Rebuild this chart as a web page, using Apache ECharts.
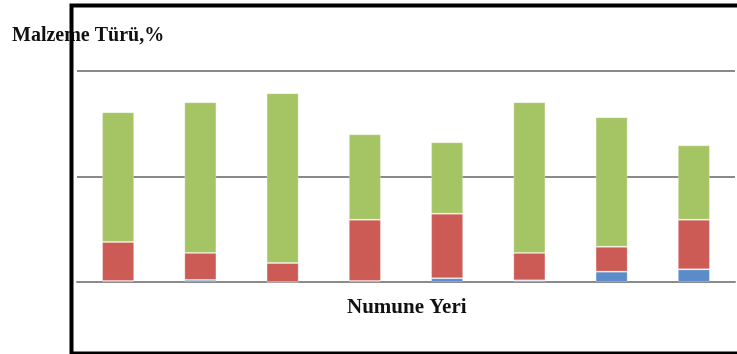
<!DOCTYPE html>
<html>
<head>
<meta charset="utf-8">
<script src="https://cdn.jsdelivr.net/npm/echarts@6/dist/echarts.min.js"></script>
<style>
  html, body { margin: 0; padding: 0; background: #fff; }
  #chart { width: 737px; height: 354px; }
</style>
</head>
<body>
<div id="chart"></div>
<script>
// Sampling sites and material shares (%) per site
const categories = ['1', '2', '3', '4', '5', '6', '7', '8'];
const seriesBlue = [0.5, 1.0, 0.0, 0.5, 1.8, 0.8, 4.9, 6.0];
const seriesRed = [18.5, 12.8, 9.0, 29.0, 30.6, 13.0, 11.8, 23.5];
const seriesGreen = [61.5, 71.4, 80.5, 40.5, 33.8, 71.4, 61.4, 35.3];
const yTicks = [0, 50, 100];

const chart = echarts.init(document.getElementById('chart'), null, { renderer: 'canvas' });

const barCommon = {
  type: 'bar',
  stack: 'total',
  barWidth: '39%',
  itemStyle: { borderColor: 'rgba(255,255,255,0.25)', borderWidth: 1 }
};

chart.setOption({
  animation: false,
  backgroundColor: '#ffffff',
  grid: { left: 77, right: 2, top: 71, bottom: 72 },
  title: [
    {
      text: 'Malzeme Türü,%',
      left: 7, top: 21,
      textStyle: { fontFamily: 'Liberation Serif', fontWeight: 'bold', fontSize: 20, color: '#111' }
    },
    {
      text: 'Numune Yeri',
      left: 342, top: 292,
      textStyle: { fontFamily: 'Liberation Serif', fontWeight: 'bold', fontSize: 21, color: '#111' }
    }
  ],
  xAxis: {
    type: 'category',
    data: categories,
    axisLine: { show: true, lineStyle: { color: '#8a8a8a', width: 2 } },
    axisTick: { show: false },
    axisLabel: { show: false }
  },
  yAxis: {
    type: 'value',
    min: yTicks[0],
    max: yTicks[yTicks.length - 1],
    interval: yTicks[1] - yTicks[0],
    axisLine: { show: false },
    axisTick: { show: false },
    axisLabel: { show: false },
    splitLine: { show: true, lineStyle: { color: '#8a8a8a', width: 2 } }
  },
  series: [
    Object.assign({}, barCommon, { name: 'Mavi', data: seriesBlue, itemStyle: Object.assign({}, barCommon.itemStyle, { color: '#5b8cc9' }) }),
    Object.assign({}, barCommon, { name: 'Kırmızı', data: seriesRed, itemStyle: Object.assign({}, barCommon.itemStyle, { color: '#cc5a55' }) }),
    Object.assign({}, barCommon, { name: 'Yeşil', data: seriesGreen, itemStyle: Object.assign({}, barCommon.itemStyle, { color: '#a5c565' }) })
  ],
  graphic: [
    {
      type: 'rect',
      z: 100,
      shape: { x: 71.5, y: 5.5, width: 700, height: 348 },
      style: { fill: 'none', stroke: '#000', lineWidth: 4 }
    }
  ]
});
</script>
</body>
</html>
